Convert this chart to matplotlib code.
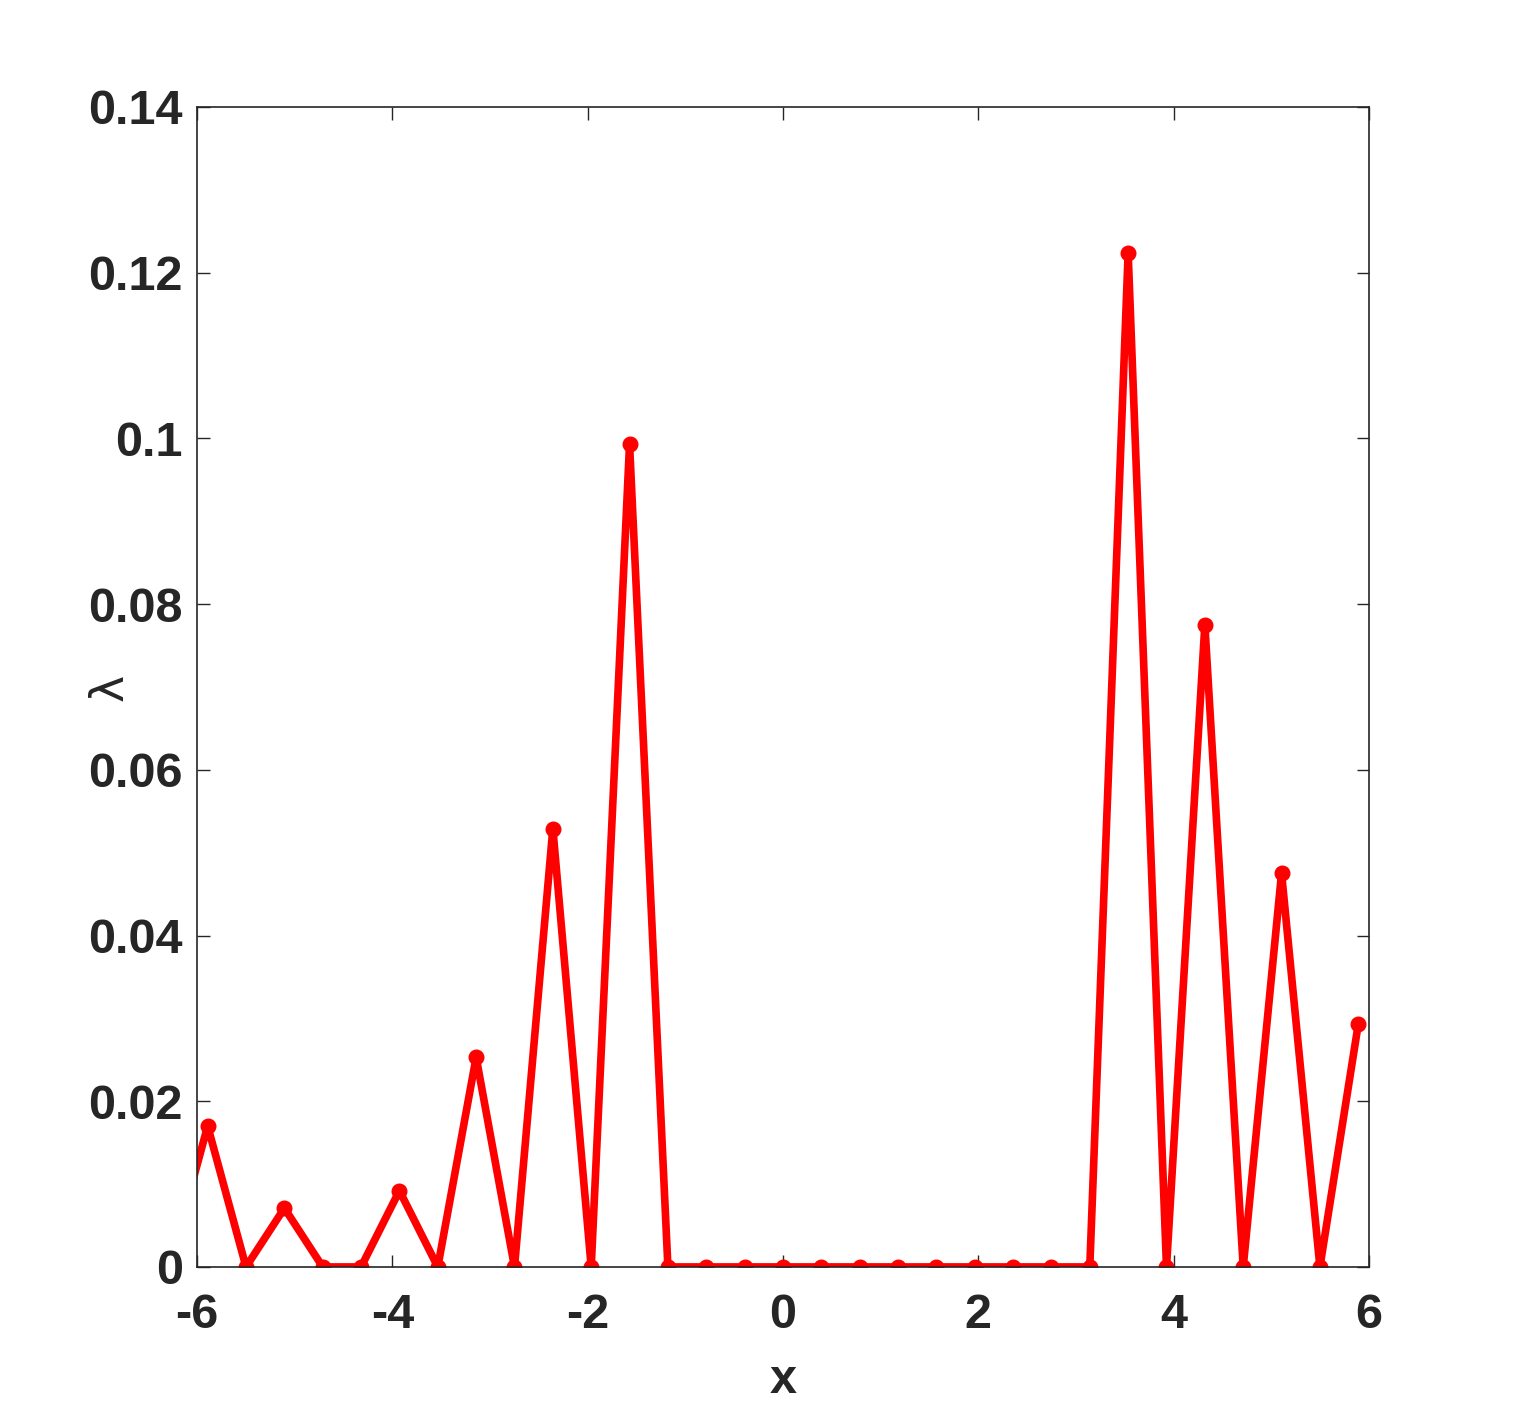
import numpy as np
import matplotlib
matplotlib.use("Agg")
import matplotlib.pyplot as plt

k = np.arange(-16, 16)
x = k * np.pi / 8
y = [0.0, 0.0170, 0.0, 0.0071, 0.0, 0.0, 0.0092, 0.0, 0.0253, 0.0, 0.0529, 0.0, 0.0993, 0.0,
     0.0, 0.0, 0.0, 0.0, 0.0, 0.0, 0.0, 0.0, 0.0, 0.0, 0.0,
     0.1224, 0.0, 0.0775, 0.0, 0.0475, 0.0, 0.0293]

xticks = [-6, -4, -2, 0, 2, 4, 6]
yticks = [0, 0.02, 0.04, 0.06, 0.08, 0.1, 0.12, 0.14]
ytick_labels = ["0", "0.02", "0.04", "0.06", "0.08", "0.1", "0.12", "0.14"]

plt.rcParams['font.family'] = ['Liberation Sans', 'DejaVu Sans']
fig = plt.figure(figsize=(15.14, 14.24), dpi=100)
ax = fig.add_axes([0.1301, 0.1103, 0.7741, 0.8146])
ax.plot(x, y, color='#ff0000', linewidth=5.5, marker='o', markersize=10.5)
ax.set_xlim(-6, 6)
ax.set_ylim(0, 0.14)
ax.set_xticks(xticks)
ax.set_xticklabels([str(t) for t in xticks])
ax.set_yticks(yticks)
ax.set_yticklabels(ytick_labels)
tc = '#262626'
ax.tick_params(direction='in', length=9, width=1, top=True, right=True,
               labelsize=35, labelcolor=tc, color=tc)
ax.tick_params(axis='x', pad=19)
ax.tick_params(axis='y', pad=10)
for lab in ax.get_xticklabels() + ax.get_yticklabels():
    lab.set_fontweight('bold')
for s in ax.spines.values():
    s.set_color(tc)
    s.set_linewidth(1.2)
ax.set_xlabel('x', fontsize=35, fontweight='bold', color=tc, labelpad=14)
ax.set_ylabel('λ', fontsize=33, color=tc, family=['DejaVu Sans'])
ax.yaxis.set_label_coords(-0.055, 0.5)
fig.savefig('out.png', dpi=100, facecolor='white')
